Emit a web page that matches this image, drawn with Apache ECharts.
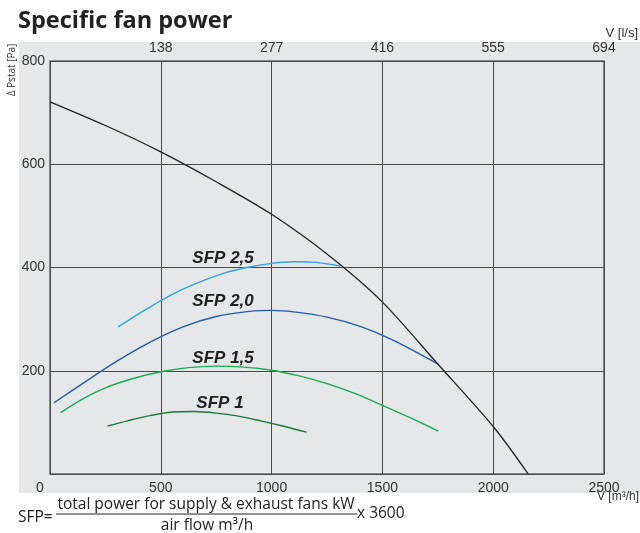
<!DOCTYPE html>
<html>
<head>
<meta charset="utf-8">
<script src="https://cdn.jsdelivr.net/npm/echarts@6/dist/echarts.min.js"></script>
<style>
html,body{margin:0;padding:0;background:#fff;}
#chart{width:640px;height:533px;}
</style>
</head>
<body>
<div id="chart"></div>
<script>
// ---- data (x: V [m³/h], y: Δ Pstat [Pa]) ----
var systemCurve = [[0,721],[250,675],[500,624],[750,566],[1000,503],[1250,426],[1500,333],[1750,213],[2000,92],[2158,0]];
var sfp25 = [[308,285],[400,310],[500,336],[600,358],[700,376],[800,391],[900,401],[1000,408],[1100,411],[1200,410],[1310,403]];
var sfp20 = [[18,138],[150,176],[300,218],[450,255],[600,285],[750,305],[900,315],[1000,317],[1100,314],[1250,304],[1400,286],[1550,259],[1752,213]];
var sfp15 = [[48,119],[150,146],[250,167],[375,185],[500,198],[625,206],[750,209],[875,207],[1000,201],[1125,190],[1250,175],[1375,156],[1500,133],[1625,109],[1752,83]];
var sfp10 = [[260,93],[350,103],[450,113],[550,120],[650,121],[750,118],[850,112],[950,103],[1050,93],[1158,81]];
var seriesNames = ['SFP 2,5','SFP 2,0','SFP 1,5','SFP 1'];
var labelCoords = [[781,418],[781,335],[781,225],[767,136]];
var bottomTicks = ['0','500','1000','1500','2000','2500'];
var topTicks = ['','138','277','416','555','694'];
var yTicks = ['','200','400','600','800'];

var chart = echarts.init(document.getElementById('chart'));
var colors = ['#2ea4e4','#1f5fb2','#1aab55','#177a3b'];
var sfpData = [sfp25, sfp20, sfp15, sfp10];

var series = [{
  type:'line', data: systemCurve, smooth:0.3, symbol:'none',
  lineStyle:{color:'#222', width:1.3}, z:5
}];
sfpData.forEach(function(d,i){
  series.push({
    type:'line', name:seriesNames[i], data:d, smooth:0.3, symbol:'none',
    lineStyle:{color:colors[i], width:1.4}, z:4,
    markPoint:{
      symbol:'circle', symbolSize:0,
      data:[{coord:labelCoords[i], value:seriesNames[i]}],
      label:{show:true, formatter:seriesNames[i], color:'#222',
        fontFamily:'Liberation Sans', fontStyle:'italic', fontWeight:'bold', fontSize:17}
    }
  });
});

var lblFont = {fontFamily:'Liberation Sans', fontSize:14, color:'#333'};
var fFont = '15.5px "Open Sans"';

chart.setOption({
  animation:false,
  backgroundColor:'#fff',
  grid:{left:50, right:36, top:61, bottom:59, show:true, borderColor:'#666', borderWidth:1.5, backgroundColor:'transparent'},
  xAxis:[{
    type:'value', min:0, max:2500, interval:500, position:'bottom',
    axisLine:{show:false}, axisTick:{show:false},
    splitLine:{show:true, lineStyle:{color:'#4a4a4a', width:1}},
    axisLabel:Object.assign({margin:7, formatter:function(v,i){
      var t = bottomTicks[Math.round(v/500)];
      return v===0 ? '{z|'+t+'}' : t;
    }, rich:{z:{fontFamily:'Liberation Sans', fontSize:14, color:'#333', padding:[0,20,0,0]}}}, lblFont)
  },{
    type:'value', min:0, max:2500, interval:500, position:'top',
    axisLine:{show:false}, axisTick:{show:false}, splitLine:{show:false},
    axisLabel:Object.assign({margin:6, formatter:function(v){return topTicks[Math.round(v/500)];}}, lblFont)
  }],
  yAxis:[{
    type:'value', min:0, max:800, interval:200,
    axisLine:{show:false}, axisTick:{show:false},
    splitLine:{show:true, lineStyle:{color:'#4a4a4a', width:1}},
    axisLabel:Object.assign({margin:5, formatter:function(v){return yTicks[Math.round(v/200)];}}, lblFont)
  }],
  series: series,
  graphic:[
    {type:'rect', z:-10, silent:true, shape:{x:19,y:42,width:621,height:451}, style:{fill:'#e6e7e9'}},
    {type:'text', x:18, y:21, style:{text:'Specific fan power', font:'bold 23.5px "Open Sans"', fill:'#222', textAlign:'left', textVerticalAlign:'middle'}},
    {type:'text', x:12, y:70, rotation:Math.PI/2, style:{text:'Δ Pstat [Pa]', font:'10px "Open Sans"', fill:'#333', textAlign:'center', textVerticalAlign:'middle'}},
    {type:'text', x:638, y:33, style:{text:'V [l/s]', font:'13px "Liberation Sans"', fill:'#333', textAlign:'right', textVerticalAlign:'middle'}},
    {type:'text', x:639, y:497, style:{text:'V [m³/h]', font:'12px "Liberation Sans"', fill:'#333', textAlign:'right', textVerticalAlign:'middle'}},
    {type:'text', x:18, y:518, style:{text:'SFP=', font:fFont, fill:'#222', textAlign:'left', textVerticalAlign:'middle'}},
    {type:'text', x:206, y:505, style:{text:'total power for supply & exhaust fans kW', font:fFont, fill:'#222', textAlign:'center', textVerticalAlign:'middle'}},
    {type:'line', shape:{x1:56,y1:514,x2:357,y2:514}, style:{stroke:'#222', lineWidth:1}},
    {type:'text', x:207, y:526, style:{text:'air flow m³/h', font:fFont, fill:'#222', textAlign:'center', textVerticalAlign:'middle'}},
    {type:'text', x:357, y:514, style:{text:'x 3600', font:fFont, fill:'#222', textAlign:'left', textVerticalAlign:'middle'}}
  ]
});
</script>
</body>
</html>
